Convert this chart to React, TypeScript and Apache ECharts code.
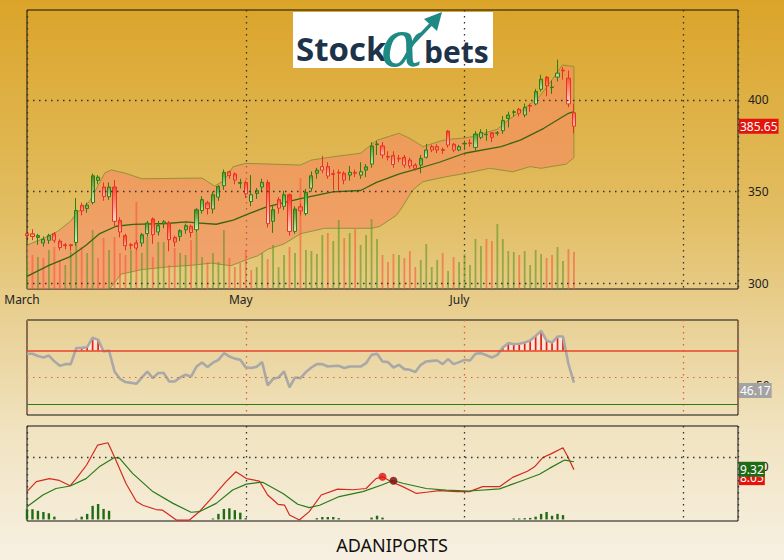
import React, { useEffect, useRef } from "react";
import * as echarts from "echarts";

// ---------- axis / layout data ----------
const SLOT_MAX = 130;
const SLOT_STEP = 40;
const monthTicks: Record<number, string> = { 0: "March", 40: "May", 80: "July" };
const priceTicks = [300, 350, 400];
const lastPrice = 385.65;
const rsiLast = 46.17;
const macdLast = 8.05;
const signalLast = 9.32;
const title = "ADANIPORTS";

// ---------- price data (OHLC per trading day) ----------
const opens = [
  327, 327, 325, 322, 323.5, 327, 323, 321, 321, 322.3,
  342.5, 340.8, 344.1, 356.1, 352.5, 347.2, 352.5, 334.3, 326, 321,
  322, 322, 327.1, 335.1, 328, 332.5, 332.9, 325, 325.6, 329.2,
  331, 329.2, 339.7, 343.9, 340.5, 347, 353.2, 360.8, 359.6, 354.5,
  355, 344.6, 349, 352.5, 355, 333.8, 345.6, 342, 348.3, 328.3,
  341.7, 338, 351.9, 360, 363.6, 363.6, 359.8, 360.5, 360, 359,
  360.5, 359, 361.7, 365, 375.6, 374.9, 369.2, 369.6, 368.2, 368.7,
  367.2, 364.5, 364.5, 368.7, 374.5, 374.5, 372.9, 383, 375.8, 372.7,
  376, 376.5, 374.1, 379.6, 381, 382.1, 381.8, 383.2, 389.9, 393.2,
  394.9, 391.8, 396.9, 397.8, 405.8, 412.4, 406.7, 412.4, 416.2, 411.8,
  393,
];
const closes = [
  326, 325.5, 326, 324, 326, 323.5, 319.5, 320.5, 320.5, 339.7,
  339.5, 342.6, 358.6, 357.9, 347.4, 352.5, 333.8, 328, 320.5, 320.7,
  319.3, 326.5, 332.9, 326.5, 331.5, 333.5, 323.8, 322.5, 328.7, 331.4,
  327.7, 340.1, 345.6, 340.8, 348.3, 352.8, 360.5, 358.7, 356.3, 355,
  348.8, 348.3, 350.5, 355, 332.5, 340.1, 341, 348.3, 328.3, 340.5,
  339.5, 349.6, 358.6, 361.7, 361.7, 358.5, 359.4, 360.1, 356.3, 360.5,
  360, 360.8, 363.5, 374.9, 376, 370, 368.8, 364.8, 367.8, 364.5,
  364, 362.7, 368.1, 372.7, 372.7, 372.7, 372.5, 375.4, 372.7, 374.5,
  376.3, 376.3, 381.4, 382.3, 381.2, 379.6, 382.1, 388.7, 391.8, 393.5,
  392.7, 396, 396.6, 404.6, 411.3, 407.7, 407, 414.6, 415.8, 397.8,
  385.65,
];
const lows = [
  324.5, 323.5, 321, 320, 321.5, 322, 318, 318.5, 317.5, 320.5,
  337, 338.5, 343, 354, 345, 345.5, 330.8, 325, 318, 318.5,
  318, 320, 325.5, 321.5, 326, 330, 317.5, 320, 323, 327,
  325, 328, 338, 337.5, 338, 345, 351, 357, 354, 351.7,
  346.5, 342, 346, 350, 330.5, 327.5, 338, 340, 326, 327,
  337, 337, 350, 357, 360, 357, 351, 350.5, 354, 356,
  358, 357, 358, 363, 370, 368, 367, 363, 366, 363,
  362.5, 361.5, 360, 368, 371.5, 371, 370.5, 374, 371.5, 372,
  372.7, 374.5, 372.5, 378.5, 377.7, 377, 380.5, 381.5, 385, 391,
  391, 390.5, 393.5, 397, 404.6, 402, 403.3, 410, 411, 396,
  381.8,
];
const highs = [
  328.5, 329.5, 327, 325.5, 327, 328, 324, 322, 321.5, 346.5,
  344, 344, 359.8, 359, 355, 355, 356.3, 336, 327, 322,
  323.5, 327.5, 334, 336, 334, 334.5, 334, 326, 329.5, 332.5,
  332, 341, 347.5, 345, 350, 353.5, 362, 361.5, 360.5, 357,
  356, 359, 352, 357, 356.5, 342.5, 347, 350.5, 349, 342,
  343.5, 351.5, 361, 363, 369.5, 366, 362, 362, 361, 364,
  362, 366, 365, 377, 377.6, 377, 372, 372, 370, 370,
  368.5, 365.5, 370, 376, 375.5, 375.8, 374, 383.5, 376.5, 375.5,
  377.8, 378.5, 383, 384, 384, 382.5, 383, 391.2, 393.6, 394.5,
  395.6, 398, 398, 406, 413.7, 413, 410.6, 421.9, 417.8, 416,
  398,
];
const volumes = [
  28, 34, 32, 31, 39, 42, 29, 24, 37, 59,
  42, 36, 59, 31, 51, 39, 52, 36, 34, 39,
  87, 36, 52, 32, 47, 47, 24, 41, 36, 34,
  49, 57, 32, 27, 36, 27, 59, 31, 22, 26,
  39, 19, 22, 36, 30, 44, 22, 34, 42, 36,
  111, 39, 38, 35, 54, 56, 48, 69, 51, 56,
  60, 44, 54, 70, 50, 34, 27, 35, 34, 31,
  38, 22, 29, 45, 22, 29, 36, 18, 32, 27,
  35, 24, 50, 43, 50, 48, 65, 50, 38, 37,
  34, 38, 24, 39, 35, 31, 34, 42, 28, 40,
  37,
];
const VOLUME_AXIS_MAX = 279;

// Bollinger band vertices: [day index, price]
const bandUpper: [number, number][] = [
  [0, 320.8], [3, 324.5], [5.6, 328.3], [8, 334], [9, 338], [11.4, 344.6], [12.6, 351],
  [14.2, 360.1], [15.4, 361.8], [18, 360], [21, 357], [32, 357.4], [34.3, 353], [36, 356],
  [37.7, 363.6], [40, 365.4], [50, 364.5], [52, 367.2], [56, 369], [61, 370.9], [64, 378],
  [68, 381.8], [70, 379], [72.4, 374.5], [75.4, 377.4], [77, 378.5], [80, 379.2], [81.5, 380],
  [86, 384], [88, 389], [90.6, 394.5], [93.7, 401.8], [96, 410.9], [97.9, 419], [100, 418.2],
];
const bandLower: [number, number][] = [
  [0, 287], [6, 285], [11, 284], [13.5, 287], [15.1, 296.9], [17.2, 305], [21, 307.5],
  [26, 309], [30, 309.8], [33.7, 311], [37.3, 309.6], [40.7, 313.5], [42.2, 315], [44, 318.5],
  [47, 321.5], [50, 327], [54.4, 330], [56, 330], [63, 330], [64.5, 331], [67.5, 337],
  [68.5, 341], [70.5, 350.8], [72.4, 355.4], [76.6, 358.1], [80.3, 360], [84.6, 362.7],
  [88.8, 360.8], [92, 363.6], [94, 362.7], [98.6, 365], [100, 368.5],
];
const bandMiddle: [number, number][] = [
  [0, 303.8], [4, 309.8], [7.8, 314.4], [10.8, 320.8], [13.3, 327.1], [16.3, 331.1],
  [19.4, 332.1], [25.5, 332.6], [29.1, 333.5], [31, 333], [34.6, 332.2], [37.7, 334.4],
  [40.7, 338.1], [43.8, 341.7], [49.8, 346], [55.9, 349.9], [61, 350.6], [63.9, 355],
  [68.1, 359.7], [72, 363], [75.4, 366], [80, 370.9], [86.7, 374.5], [90.2, 378.1],
  [94.5, 384.5], [97.5, 390], [99, 392.7], [100, 393.6],
];

// ---------- RSI ----------
const rsiValues = [
  67.6, 67.6, 66, 64.8, 66.3, 62, 58.7, 59.9, 59.9, 71.8,
  72, 72.5, 79.6, 77.9, 69.3, 70, 54.4, 49, 46.6, 46,
  45.3, 50, 54.4, 49.5, 53.3, 53.3, 47, 47, 50, 52,
  50.7, 58.1, 61.1, 57.7, 61, 63.1, 68, 65.6, 64, 63.1,
  57.5, 57, 58, 61.4, 44.1, 49, 50, 54.5, 42.6, 50,
  49.5, 54, 57.4, 59.9, 59.9, 58.1, 58.5, 58.6, 57, 58.1,
  58.1, 58.1, 60.6, 66.8, 67.6, 61.9, 61.4, 57.4, 59.4, 56.2,
  55.7, 54, 59.4, 61.9, 62.3, 62.6, 59.9, 63.6, 59.9, 61.4,
  63.1, 62.6, 67.6, 68.1, 66.5, 64.8, 66.8, 72.2, 75.5, 74.7,
  75, 76, 77.4, 80.9, 84.6, 77.4, 75.9, 80.4, 80.4, 60,
  46.17,
];
const RSI_HIGH = 70;
const RSI_MID = 50;
const RSI_LOW = 30;

// ---------- MACD ----------
const macdLine: [number, number][] = [
  [0, 4.5], [1.7, 6.1], [4.1, 6.6], [5.9, 6.3], [7.9, 5.45], [9, 6.6], [10.9, 8.8], [12.9, 12.0],
  [14.8, 12.4], [16, 10.1], [18.1, 5.8], [20, 2.9], [21.2, 2.3], [23.6, 1.6], [24.8, 1.5],
  [27.3, -0.1], [29.7, -0.1], [31.5, 1.25], [34, 3.7], [36.4, 6.1], [38.2, 7.7], [40.1, 6.6],
  [42.5, 6.2], [44, 3.95], [45.9, 2.45], [47.1, 2.3], [48, 0.73], [49.8, -0.1], [51.6, 1.26],
  [53.8, 3.95], [56.8, 4.9], [59.6, 4.8], [62, 5.0], [63.8, 6.6], [65, 6.9], [66.6, 6.1],
  [68.7, 5.3], [71.2, 4.2], [73, 4.4], [75.4, 4.65], [78.5, 4.5], [80.9, 4.5], [83.3, 5.3],
  [86.4, 5.3], [88.8, 6.8], [91.5, 7.8], [92.8, 8.5], [94.3, 10.0], [95.8, 10.6], [98, 11.6],
  [98.9, 10.1], [100, 8.05],
];
const signalLine: [number, number][] = [
  [0, 2.06], [2.9, 3.95], [5.3, 5.0], [7.9, 5.4], [10.8, 6.6], [13.2, 8.5], [16, 10.0],
  [16.9, 9.9], [19.3, 7.45], [23, 4.5], [26.7, 2.6], [30, 1.16], [31.5, 1.25], [34.6, 2.6],
  [37.6, 4.75], [40.1, 5.7], [42.5, 6.0], [43.1, 6.0], [46.8, 4.2], [49.5, 2.45], [51.6, 1.9],
  [53.5, 2.3], [57.1, 3.7], [61.4, 4.5], [65, 5.6], [66.9, 6.3], [68.7, 5.85], [73, 5.0],
  [76.6, 4.75], [80.9, 4.6], [86.4, 4.95], [90, 6.1], [93.7, 7.3], [95.5, 8.25], [98.3, 9.6],
  [100, 9.32],
];
const macdHist: [number, number][] = [
  [0, 1.65], [1, 1.65], [2, 1.4], [3, 1.2], [4, 1.0], [5, 0.45], [9, 0.1], [10, 0.45],
  [11, 0.9], [12, 2.2], [13, 2.5], [14, 1.7], [15, 1.4], [34, 0.15], [35, 0.9], [36, 1.7],
  [37, 1.8], [38, 1.5], [39, 1.1], [40, 0.2], [53, 0.2], [54, 0.4], [55, 0.4], [56, 0.4],
  [57, 0.2], [63, 0.3], [64, 0.6], [65, 0.3], [89, 0.15], [90, 0.15], [91, 0.2], [92, 0.25],
  [93, 0.45], [94, 0.9], [95, 1.2], [96, 0.6], [97, 0.9], [98, 0.7],
];
const MACD_REF = 10;
const crossMarks: [number, number][] = [[65, 6.9], [67, 6.25]];

// ---------- styling ----------
const FONT = "Noto Sans";
const DOT: number[] = [1.5, 4.5];

function buildOption() {
  const candleData = opens.map((o, i) => [i, o, closes[i], lows[i], highs[i]]);
  const volumeData = volumes.map((v, i) => {
    const up = i === 0 || closes[i] >= closes[i - 1];
    return {
      value: [i, v],
      itemStyle: { color: up ? "rgba(95,150,35,0.62)" : "rgba(245,90,60,0.62)" },
    };
  });

  const greenFill = new echarts.graphic.LinearGradient(0, 0, 0, 1, [
    { offset: 0, color: "#2f8a14" },
    { offset: 1, color: "#eef2d6" },
  ]);
  const redFill = new echarts.graphic.LinearGradient(0, 0, 0, 1, [
    { offset: 0, color: "#ff2a14" },
    { offset: 1, color: "#fff0e6" },
  ]);

  const xAxisFor = (gridIndex: number, showLabel: boolean, splitColor: string) => ({
    type: "value",
    gridIndex,
    min: 0,
    max: SLOT_MAX,
    interval: SLOT_STEP,
    axisLine: { show: false },
    axisTick: { show: false },
    splitLine: { show: true, lineStyle: { color: splitColor, type: DOT, width: 1.3 } },
    axisLabel: showLabel
      ? {
          show: true,
          formatter: (v: number) => monthTicks[v] ?? "",
          color: "#222",
          fontSize: 12,
          fontFamily: FONT,
          margin: 4,
          padding: [0, 10, 0, 0],
        }
      : { show: false },
  });

  const hiddenLine = { color: "rgba(0,0,0,0)", width: 0 };

  const rsiStripes = (params: any, api: any) => {
    const idx = params.dataIndex;
    const i = api.value(0);
    const v = api.value(1);
    const children: any[] = [];
    const next = idx + 1 < rsiValues.length ? rsiValues[idx + 1] : null;
    if (next != null && (v > RSI_HIGH || next > RSI_HIGH)) {
      let pts: number[][];
      if (v >= RSI_HIGH && next >= RSI_HIGH) {
        pts = [[i, RSI_HIGH], [i, v], [i + 1, next], [i + 1, RSI_HIGH]];
      } else if (v >= RSI_HIGH) {
        const t = (v - RSI_HIGH) / (v - next);
        pts = [[i, RSI_HIGH], [i, v], [i + t, RSI_HIGH]];
      } else {
        const t = (RSI_HIGH - v) / (next - v);
        pts = [[i + t, RSI_HIGH], [i + 1, next], [i + 1, RSI_HIGH]];
      }
      children.push({
        type: "polygon",
        shape: { points: pts.map((p) => api.coord(p)) },
        style: { fill: "#ffe4d8" },
      });
    }
    if (v > RSI_HIGH) {
      const a = api.coord([i, RSI_HIGH]);
      const b = api.coord([i, v]);
      children.push({
        type: "line",
        shape: { x1: a[0], y1: a[1], x2: b[0], y2: b[1] },
        style: { stroke: "#e0220f", lineWidth: 1.7 },
      });
    }
    return { type: "group", children };
  };

  const bandRender = (params: any, api: any) => {
    const cs = params.coordSys;
    const up = bandUpper.map((p) => api.coord(p));
    const lo = bandLower.map((p) => api.coord(p));
    return {
      type: "group",
      clipPath: { type: "rect", shape: { x: cs.x, y: cs.y, width: cs.width, height: cs.height } },
      children: [
        {
          type: "polygon",
          shape: { points: up.concat(lo.slice().reverse()) },
          style: { fill: "rgba(250,135,100,0.55)", stroke: "rgba(125,140,45,0.8)", lineWidth: 1 },
        },
      ],
    };
  };

  const tagLabel = (text: string, bg: string, offsetY: number) => ({
    show: true,
    position: "end",
    distance: 1,
    formatter: text,
    color: "#fff",
    backgroundColor: bg,
    padding: [2, 1, 1, 1],
    fontSize: 12,
    fontFamily: FONT,
    offset: [0, offsetY],
  });
  const axisText = (text: string, distance: number, offsetY: number) => ({
    show: true,
    position: "end",
    distance,
    formatter: text,
    color: "#222",
    fontSize: 12,
    fontFamily: FONT,
    offset: [0, offsetY],
  });

  return {
    animation: false,
    backgroundColor: "transparent",
    grid: [
      { left: 27, top: 10, width: 711, height: 279, show: true, borderColor: "#111", borderWidth: 1, backgroundColor: "transparent" },
      { left: 27, top: 320, width: 711, height: 95, show: true, borderColor: "#111", borderWidth: 1, backgroundColor: "transparent" },
      { left: 27, top: 426, width: 711, height: 95, show: true, borderColor: "#111", borderWidth: 1, backgroundColor: "transparent" },
    ],
    xAxis: [xAxisFor(0, true, "#333"), xAxisFor(1, false, "#e0602f"), xAxisFor(2, false, "#333")],
    yAxis: [
      { type: "value", gridIndex: 0, min: 296.9, max: 449, show: false },
      { type: "value", gridIndex: 0, min: 0, max: VOLUME_AXIS_MAX, show: false },
      { type: "value", gridIndex: 1, min: 22.1, max: 92.7, show: false },
      { type: "value", gridIndex: 2, min: -0.25, max: 15.1, show: false },
    ],
    series: [
      {
        type: "custom",
        name: "band",
        xAxisIndex: 0,
        yAxisIndex: 0,
        clip: true,
        silent: true,
        z: 1,
        renderItem: bandRender,
        data: [[0, 350]],
      },
      {
        type: "bar",
        name: "volume",
        xAxisIndex: 0,
        yAxisIndex: 1,
        barWidth: 1.8,
        silent: true,
        z: 2,
        data: volumeData,
      },
      {
        type: "line",
        name: "sma",
        xAxisIndex: 0,
        yAxisIndex: 0,
        data: bandMiddle,
        symbol: "none",
        silent: true,
        z: 3,
        lineStyle: { color: "#3a6510", width: 1.3 },
        markLine: {
          silent: true,
          symbol: ["none", "none"],
          animation: false,
          data: [
            ...priceTicks.map((p) => ({
              yAxis: p,
              lineStyle: { color: "#333", type: DOT, width: 1.3 },
              label: axisText(String(p), 10, 0),
            })),
            {
              yAxis: lastPrice,
              lineStyle: hiddenLine,
              label: tagLabel(String(lastPrice), "#e3140c", 0),
            },
          ],
        },
      },
      {
        type: "candlestick",
        name: "price",
        xAxisIndex: 0,
        yAxisIndex: 0,
        barWidth: 3.6,
        z: 4,
        silent: true,
        data: candleData,
        itemStyle: {
          color: greenFill,
          color0: redFill,
          borderColor: "#2f7d12",
          borderColor0: "#e4341f",
          borderWidth: 1,
        },
      },
      // RSI panel
      {
        type: "custom",
        name: "rsiFill",
        xAxisIndex: 1,
        yAxisIndex: 2,
        silent: true,
        z: 2,
        renderItem: rsiStripes,
        data: rsiValues.map((v, i) => [i, v]),
      },
      {
        type: "line",
        name: "rsi",
        xAxisIndex: 1,
        yAxisIndex: 2,
        data: rsiValues.map((v, i) => [i, v]),
        symbol: "none",
        silent: true,
        z: 3,
        lineStyle: { color: "#a8a8a8", width: 2.6 },
        markLine: {
          silent: true,
          symbol: ["none", "none"],
          animation: false,
          data: [
            { yAxis: RSI_HIGH, lineStyle: { color: "#e8442a", width: 1.6, type: "solid" }, label: { show: false } },
            { yAxis: RSI_MID, lineStyle: { color: "#e0603a", width: 1.2, type: DOT }, label: axisText(String(RSI_MID), 18, 8.5) },
            { yAxis: RSI_LOW, lineStyle: { color: "#2f7d12", width: 1.2, type: "solid" }, label: { show: false } },
            { yAxis: rsiLast, lineStyle: hiddenLine, label: tagLabel(String(rsiLast), "#a3a3a3", 8) },
          ],
        },
      },
      // MACD panel
      {
        type: "bar",
        name: "hist",
        xAxisIndex: 2,
        yAxisIndex: 3,
        barWidth: 2.4,
        silent: true,
        z: 2,
        itemStyle: { color: "#1f6c12" },
        data: macdHist,
      },
      {
        type: "line",
        name: "macd",
        xAxisIndex: 2,
        yAxisIndex: 3,
        data: macdLine,
        symbol: "none",
        silent: true,
        z: 3,
        lineStyle: { color: "#d42a1e", width: 1.2 },
        markLine: {
          silent: true,
          symbol: ["none", "none"],
          animation: false,
          data: [
            { yAxis: MACD_REF, lineStyle: { color: "#333", width: 1.3, type: DOT }, label: axisText(String(MACD_REF), 17, 8.5) },
            { yAxis: macdLast, lineStyle: hiddenLine, label: tagLabel(macdLast.toFixed(2), "#e3140c", 8) },
          ],
        },
      },
      {
        type: "line",
        name: "signal",
        xAxisIndex: 2,
        yAxisIndex: 3,
        data: signalLine,
        symbol: "none",
        silent: true,
        z: 4,
        lineStyle: { color: "#2a7a1a", width: 1.2 },
        markLine: {
          silent: true,
          symbol: ["none", "none"],
          animation: false,
          z: 6,
          data: [{ yAxis: signalLast, lineStyle: hiddenLine, label: tagLabel(String(signalLast), "#1f6b14", 7.5) }],
        },
      },
      {
        type: "scatter",
        name: "cross",
        xAxisIndex: 2,
        yAxisIndex: 3,
        symbolSize: 8,
        silent: true,
        z: 5,
        data: [
          { value: crossMarks[0], itemStyle: { color: "#e01010" } },
          { value: crossMarks[1], itemStyle: { color: "#7a0a0a" } },
        ],
      },
    ],
    graphic: [
      {
        type: "group",
        children: [
          { type: "rect", shape: { x: 293, y: 12, width: 200, height: 56 }, style: { fill: "#ffffff" } },
          {
            type: "text",
            x: 296,
            y: 48,
            style: { text: "Stock", font: "bold 33px 'Open Sans'", fill: "#1d3349", textVerticalAlign: "middle", textAlign: "left" },
          },
          {
            type: "text",
            x: 402,
            y: 44,
            style: { text: "α", font: "italic 64px 'DejaVu Serif'", fill: "#1f8a84", textVerticalAlign: "middle", textAlign: "center" },
          },
          { type: "line", shape: { x1: 412, y1: 44, x2: 434, y2: 21 }, style: { stroke: "#1f8a84", lineWidth: 3.5 } },
          { type: "polygon", shape: { points: [[424, 19], [442, 12], [437, 31]] }, style: { fill: "#1f8a84" } },
          {
            type: "text",
            x: 424,
            y: 51,
            style: { text: "bets", font: "bold 30px 'Open Sans'", fill: "#1d3349", textVerticalAlign: "middle", textAlign: "left" },
          },
        ],
      },
      {
        type: "text",
        x: 392,
        y: 545,
        style: { text: title, font: "18px 'Noto Sans'", fill: "#111", textAlign: "center", textVerticalAlign: "middle" },
      },
    ],
  };
}

export default function App() {
  const ref = useRef<HTMLDivElement>(null);
  useEffect(() => {
    if (!ref.current) return;
    const chart = echarts.init(ref.current, undefined, { renderer: "svg" });
    chart.setOption(buildOption() as any);
    return () => chart.dispose();
  }, []);
  return (
    <div
      ref={ref}
      style={{
        position: "fixed",
        left: 0,
        top: 0,
        width: 784,
        height: 560,
        background: "linear-gradient(to bottom, #dba429 0%, #e2bd62 38%, #e9d196 58%, #f1e4c2 78%, #f7f0e2 100%)",
      }}
    />
  );
}
